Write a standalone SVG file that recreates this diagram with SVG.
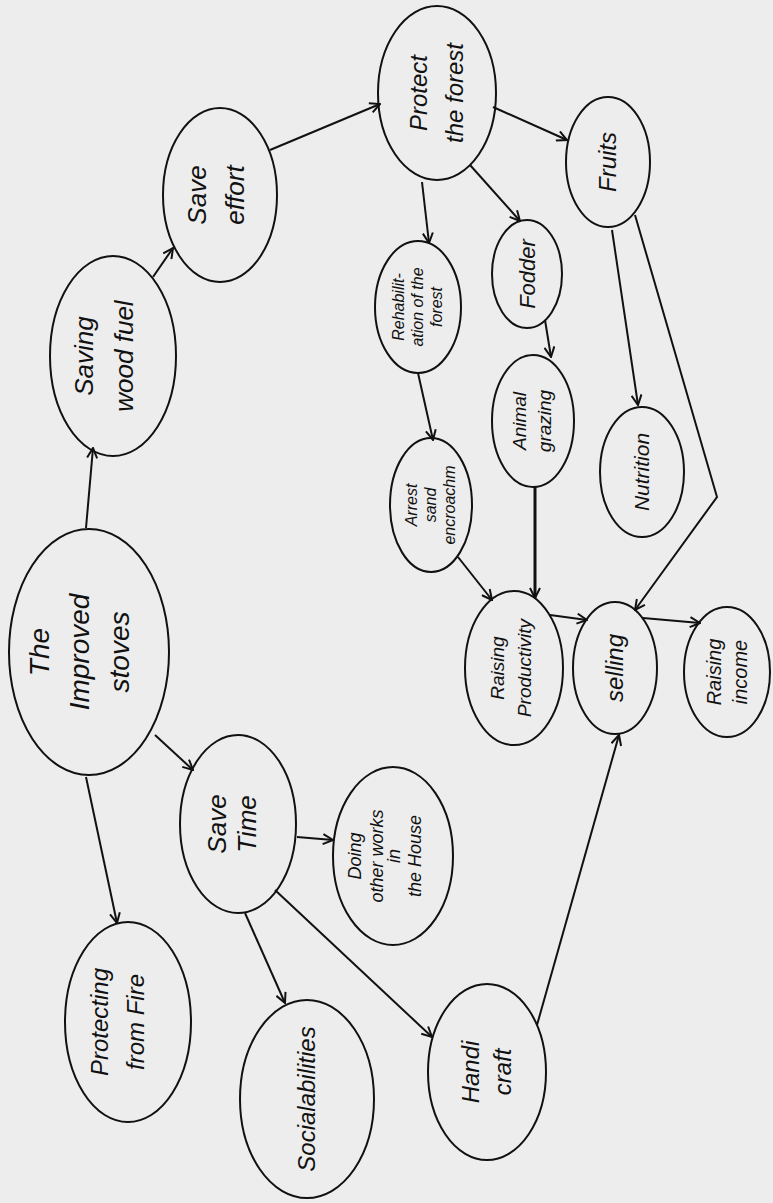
<svg xmlns="http://www.w3.org/2000/svg" width="773" height="1203" viewBox="0 0 773 1203">
<style>
.n{fill:none;stroke:#111;stroke-width:2}
.e{fill:none;stroke:#111;stroke-width:2;marker-end:url(#a)}
text{font-family:"Liberation Sans",Arial,sans-serif;fill:#111;text-anchor:middle;font-style:italic}
</style>
<defs>
<marker id="a" viewBox="0 0 12 12" refX="11" refY="6" markerWidth="12" markerHeight="12" markerUnits="userSpaceOnUse" orient="auto">
<path d="M1,1 L11,6 L1,11" fill="none" stroke="#111" stroke-width="2"/>
</marker>
</defs>
<rect width="773" height="1203" fill="#ededed"/>
<g id="connectors">
<line class="e" x1="86" y1="528" x2="93" y2="448"/>
<line class="e" x1="153" y1="277" x2="173" y2="248"/>
<line class="e" x1="270" y1="150" x2="380" y2="104"/>
<line class="e" x1="493" y1="107" x2="567" y2="140"/>
<line class="e" x1="470" y1="165" x2="520" y2="221"/>
<line class="e" x1="422" y1="182" x2="429" y2="243"/>
<line class="e" x1="545" y1="320" x2="551" y2="357"/>
<line class="e" x1="612" y1="230" x2="638" y2="405"/>
<polyline class="e" points="635,215 717,497 635,610"/>
<line class="e" x1="418" y1="373" x2="433" y2="440"/>
<line class="e" x1="535" y1="487" x2="535" y2="598" style="stroke-width:3"/>
<line class="e" x1="458" y1="557" x2="492" y2="600"/>
<line class="e" x1="550" y1="615" x2="587" y2="620"/>
<line class="e" x1="643" y1="618" x2="700" y2="623"/>
<line class="e" x1="537" y1="1025" x2="619" y2="735"/>
<line class="e" x1="155" y1="735" x2="193" y2="770"/>
<line class="e" x1="86" y1="777" x2="117" y2="923"/>
<line class="e" x1="297" y1="837" x2="333" y2="840"/>
<line class="e" x1="245" y1="913" x2="285" y2="1003"/>
<line class="e" x1="275" y1="890" x2="432" y2="1037"/>
</g>
<g id="stoves">
<ellipse class="n" cx="89" cy="652" rx="80" ry="123"/>
<text transform="translate(89 652) rotate(-90)" font-size="28"><tspan x="0" y="-40">The</tspan><tspan x="0" y="0">Improved</tspan><tspan x="0" y="40">stoves</tspan></text>
</g>
<g id="saving-wood-fuel">
<ellipse class="n" cx="113" cy="356" rx="63" ry="100"/>
<text transform="translate(113 356) rotate(-90)" font-size="26"><tspan x="0" y="-20">Saving</tspan><tspan x="0" y="20">wood fuel</tspan></text>
</g>
<g id="save-effort">
<ellipse class="n" cx="220" cy="195" rx="57" ry="87"/>
<text transform="translate(220 195) rotate(-90)" font-size="26"><tspan x="0" y="-14">Save</tspan><tspan x="0" y="24">effort</tspan></text>
</g>
<g id="protect-forest">
<ellipse class="n" cx="437" cy="93" rx="59" ry="87"/>
<text transform="translate(437 93) rotate(-90)" font-size="24"><tspan x="0" y="-10">Protect</tspan><tspan x="0" y="26">the forest</tspan></text>
</g>
<g id="fruits">
<ellipse class="n" cx="608" cy="162" rx="42" ry="65"/>
<text transform="translate(608 162) rotate(-90)" font-size="24"><tspan x="0" y="8">Fruits</tspan></text>
</g>
<g id="fodder">
<ellipse class="n" cx="527" cy="274" rx="35" ry="54"/>
<text transform="translate(527 274) rotate(-90)" font-size="22"><tspan x="0" y="8">Fodder</tspan></text>
</g>
<g id="rehabilitation">
<ellipse class="n" cx="418" cy="307" rx="43" ry="66"/>
<text transform="translate(418 307) rotate(-90)" font-size="16"><tspan x="0" y="-14">Rehabilit-</tspan><tspan x="0" y="5">ation of the</tspan><tspan x="0" y="24">forest</tspan></text>
</g>
<g id="animal-grazing">
<ellipse class="n" cx="533" cy="421" rx="41" ry="66"/>
<text transform="translate(533 421) rotate(-90)" font-size="19"><tspan x="0" y="-7">Animal</tspan><tspan x="0" y="18">grazing</tspan></text>
</g>
<g id="nutrition">
<ellipse class="n" cx="642" cy="472" rx="42" ry="65"/>
<text transform="translate(642 472) rotate(-90)" font-size="21"><tspan x="0" y="7">Nutrition</tspan></text>
</g>
<g id="arrest-sand">
<ellipse class="n" cx="431" cy="505" rx="41" ry="67"/>
<text transform="translate(431 505) rotate(-90)" font-size="16"><tspan x="0" y="-14">Arrest</tspan><tspan x="0" y="5">sand</tspan><tspan x="0" y="24">encroachm</tspan></text>
</g>
<g id="raising-productivity">
<ellipse class="n" cx="514" cy="668" rx="49" ry="77"/>
<text transform="translate(514 668) rotate(-90)" font-size="19"><tspan x="0" y="-10">Raising</tspan><tspan x="0" y="17">Productivity</tspan></text>
</g>
<g id="selling">
<ellipse class="n" cx="615" cy="668" rx="42" ry="66"/>
<text transform="translate(615 668) rotate(-90)" font-size="24"><tspan x="0" y="8">selling</tspan></text>
</g>
<g id="raising-income">
<ellipse class="n" cx="727" cy="672" rx="43" ry="65"/>
<text transform="translate(727 672) rotate(-90)" font-size="20"><tspan x="0" y="-6">Raising</tspan><tspan x="0" y="20">income</tspan></text>
</g>
<g id="save-time">
<ellipse class="n" cx="238" cy="824" rx="58" ry="89"/>
<text transform="translate(238 824) rotate(-90)" font-size="26"><tspan x="0" y="-12">Save</tspan><tspan x="0" y="18">Time</tspan></text>
</g>
<g id="doing-other-works">
<ellipse class="n" cx="393" cy="856" rx="60" ry="89"/>
<text transform="translate(393 856) rotate(-90)" font-size="18"><tspan x="0" y="-32">Doing</tspan><tspan x="0" y="-10">other works</tspan><tspan x="0" y="7">in</tspan><tspan x="0" y="28">the House</tspan></text>
</g>
<g id="protecting-fire">
<ellipse class="n" cx="128" cy="1022" rx="63" ry="100"/>
<text transform="translate(128 1022) rotate(-90)" font-size="24"><tspan x="0" y="-20">Protecting</tspan><tspan x="0" y="16">from Fire</tspan></text>
</g>
<g id="socialabilities">
<ellipse class="n" cx="307" cy="1099" rx="67" ry="99"/>
<text transform="translate(307 1099) rotate(-90)" font-size="24"><tspan x="0" y="8">Socialabilities</tspan></text>
</g>
<g id="handicraft">
<ellipse class="n" cx="487" cy="1072" rx="59" ry="88"/>
<text transform="translate(487 1072) rotate(-90)" font-size="24"><tspan x="0" y="-8">Handi</tspan><tspan x="0" y="24">craft</tspan></text>
</g>
</svg>
